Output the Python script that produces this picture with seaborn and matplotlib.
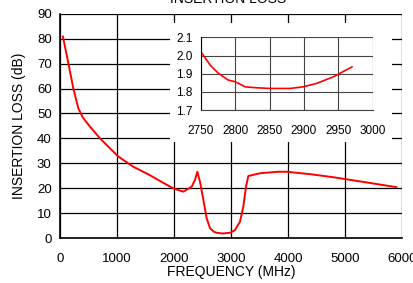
import pandas as pd
import matplotlib.pyplot as plt
import seaborn as sns
from matplotlib.patches import Rectangle

# main curve
freq = [50, 146, 233, 321, 398, 526, 702, 877, 1023, 1286, 1579, 1754, 1988, 2163, 2310,
        2368, 2409, 2456, 2515, 2573, 2632, 2700, 2749, 2850, 2982, 3070, 3158, 3216, 3263,
        3304, 3509, 3830, 3977, 4400, 4795, 5300, 5906]
loss = [81, 70.2, 60.1, 52.1, 48.5, 44.7, 40, 36, 32.7, 28.6, 25.2, 22.9, 19.9, 18.6, 20.6,
        23.3, 26.6, 22.6, 15.3, 7.9, 3.9, 2.5, 2.1, 1.82, 2.1, 3.2, 6.6, 12.6, 20.6,
        24.9, 26.0, 26.6, 26.6, 25.6, 24.4, 22.6, 20.4]

# inset, passband detail
inset_freq = [2750, 2763.5, 2775.6, 2790, 2800, 2814.5, 2830, 2850.7, 2879.8, 2899, 2918.5, 2942.7, 2970]
inset_loss = [2.021, 1.948, 1.902, 1.865, 1.856, 1.828, 1.823, 1.819, 1.819, 1.828, 1.847, 1.883, 1.938]

sns.set_style("white")
plt.rcParams["font.family"] = ["Liberation Sans", "DejaVu Sans"]
plt.rcParams["font.size"] = 9.5
plt.rcParams["text.color"] = "black"
plt.rcParams["axes.labelcolor"] = "black"
plt.rcParams["lines.solid_joinstyle"] = "round"

fig = plt.figure(figsize=(4.14, 2.83), dpi=100)
ax = fig.add_axes([0.145, 0.159, 0.826, 0.792])

df = pd.DataFrame({"f": freq, "il": loss})
sns.lineplot(data=df, x="f", y="il", ax=ax, color="#ff0000", lw=1.4)
ax.set_xlim(0, 6000)
ax.set_ylim(0, 90)
ax.set_xticks(range(0, 6001, 1000))
ax.set_yticks(range(0, 91, 10))
ax.grid(True, color="black", lw=0.9)
for s in ax.spines.values():
    s.set_visible(False)
for side in ["left", "bottom"]:
    ax.spines[side].set_visible(True)
    ax.spines[side].set_color("black")
    ax.spines[side].set_linewidth(1.2)
ax.tick_params(direction="out", length=4, width=1, colors="black", labelsize=9.5, pad=2)
ax.tick_params(axis="x", pad=7)
ax.set_xlabel("FREQUENCY (MHz)", fontsize=10, labelpad=0)
ax.set_ylabel("INSERTION LOSS (dB)", fontsize=10, labelpad=8)
fig.text(0.551, 0.988, "INSERTION LOSS", ha="center", va="baseline", fontsize=10)

# white box behind the inset
fig.patches.append(Rectangle((0.411, 0.498), 0.536, 0.421, transform=fig.transFigure,
                             facecolor="white", edgecolor="none", zorder=2))

ins = fig.add_axes([0.485, 0.611, 0.4155, 0.257], zorder=3)
idf = pd.DataFrame({"f": inset_freq, "il": inset_loss})
sns.lineplot(data=idf, x="f", y="il", ax=ins, color="#ff0000", lw=1.2)
ins.set_xlim(2750, 3000)
ins.set_ylim(1.7, 2.1)
ins.set_xticks(range(2750, 3001, 50))
ins.set_yticks([1.7, 1.8, 1.9, 2.0, 2.1])
ins.set_yticklabels(["1.7", "1.8", "1.9", "2.0", "2.1"])
ins.grid(True, color="#444444", lw=0.8)
for s in ins.spines.values():
    s.set_visible(False)
ins.spines["left"].set_visible(True)
ins.spines["left"].set_color("black")
ins.spines["bottom"].set_visible(True)
ins.spines["bottom"].set_color("#444444")
ins.tick_params(axis="y", direction="out", length=4, width=1, colors="black", labelsize=8.5, pad=2)
ins.tick_params(axis="x", length=0, colors="black", labelsize=8.5, pad=11)
ins.set_xlabel("")
ins.set_ylabel("")

fig.savefig("out.png", dpi=100)
